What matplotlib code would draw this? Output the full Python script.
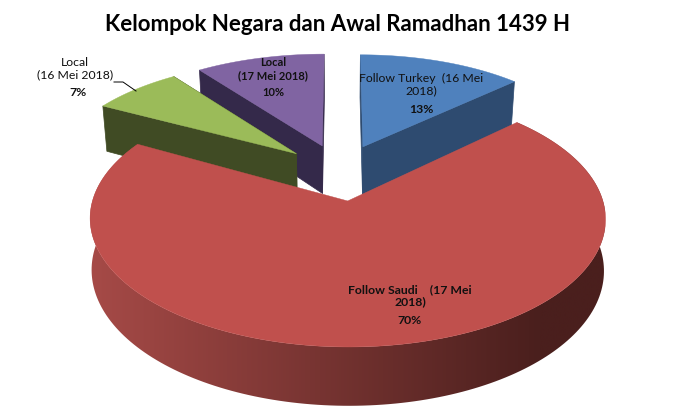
import numpy as np
import matplotlib.pyplot as plt

labels = ['Follow Turkey  (16 Mei\n2018)', 'Follow Saudi    (17 Mei\n2018)',
          'Local\n(16 Mei 2018)', 'Local\n(17 Mei 2018)']
values = [13, 70, 7, 10]
pct = ['13%', '70%', '7%', '10%']
top_colors = ['#4F81BD', '#C0504D', '#9BBB59', '#8064A2']
wall_colors = ['#2E4B70', '#7A3230', '#404B24', '#34294A']

# projection of the pie plane to the picture
x0, y0 = 340.0, 172.0
A, B, p = 247.0, 117.7, 0.135
depth = 49.0
shrink = [0.983, 0.994, 0.983, 0.983]
explode = 0.24
# the slices at the back come out a bit smaller
rad_x = [0.95, 1.0, 0.98, 0.97]
rad_y = [0.93, 1.0, 0.93, 0.93]


def project(X, Y):
    s = 1.0 / (1.0 - p * Y)
    return x0 + A * X * s, y0 + B * Y * s


def drop(X, Y, sh):
    s = 1.0 / (1.0 - p * Y)
    px, py = project(X, Y)
    return x0 + (px - x0) * sh, py + depth * s


def slice_xy(start, end, rx, ry):
    # angles run clockwise from the top, in degrees
    mid = np.radians((start + end) / 2)
    cx, cy = explode * np.sin(mid), -explode * np.cos(mid)
    th = np.radians(np.linspace(start, end, 200))
    return cx, cy, cx + rx * np.sin(th), cy - ry * np.cos(th)


fig = plt.figure(figsize=(6.77, 4.11), dpi=100)
ax = fig.add_axes([0, 0, 1, 1])

angles = np.cumsum([0] + values) * 3.6
spans = list(zip(angles[:-1], angles[1:]))

# painter's order: purple, blue, green, red
for order, i in enumerate([3, 0, 2, 1]):
    start, end = spans[i]
    z = order * 2
    cx, cy, rx, ry = slice_xy(start, end, rad_x[i], rad_y[i])
    ax_, ay_ = project(cx, cy)
    bx_, by_ = drop(cx, cy, shrink[i])
    tx, ty = project(rx, ry)
    ux, uy = drop(rx, ry, shrink[i])

    if i == 1:
        # outer wall of the big slice, with a left to right shade
        wall = ax.fill(np.r_[tx, ux[::-1]], np.r_[ty, uy[::-1]], color='none', zorder=z)[0]
        shade = np.linspace(0, 1, 256)
        shade = np.clip(shade * 515 / 450, 0, 1)[None, :, None]
        rgb = np.array([0xA6, 0x4A, 0x47]) * (1 - shade) + np.array([0x4A, 0x1F, 0x1D]) * shade
        im = ax.imshow(rgb / 255, extent=[90, 605, 411, 100], aspect='auto', zorder=z)
        im.set_clip_path(wall)
    else:
        # cut faces
        for k in [0, -1]:
            ax.fill([ax_, tx[k], ux[k], bx_], [ay_, ty[k], uy[k], by_],
                    color=wall_colors[i], lw=0.5, zorder=z)

    ax.fill(np.r_[ax_, tx], np.r_[ay_, ty], color=top_colors[i], lw=0.3, zorder=z + 1)

ax.set_xlim(0, 677)
ax.set_ylim(411, 0)
ax.axis('off')

ax.text(337.5, 24.5, 'Kelompok Negara dan Awal Ramadhan 1439 H', family='Lato', fontweight='bold',
        fontsize=16, ha='center', va='center', color='black', zorder=20)

font = dict(family='Lato', fontsize=8.8, ha='center', va='center', color='#111111',
            zorder=20, linespacing=1.12)
ax.text(421, 85, labels[0], **font)
ax.text(421, 109, pct[0], fontweight='bold', **font)
ax.text(410, 295.5, labels[1], fontweight='bold', **font)
ax.text(410, 320, pct[1], fontweight='bold', **font)
ax.text(75, 69, labels[2], **font)
ax.text(78, 92, pct[2], fontweight='bold', **font)

font['fontsize'] = 8.0
font['linespacing'] = 1.25
ax.text(273, 69.5, labels[3], fontweight='bold', **font)
ax.text(273, 92, pct[3], fontweight='bold', **font)

# leader line of the small green slice
ax.plot([114, 123, 136], [82, 82, 91], color='black', lw=0.7, zorder=20)

fig.savefig('out.png', dpi=100)
